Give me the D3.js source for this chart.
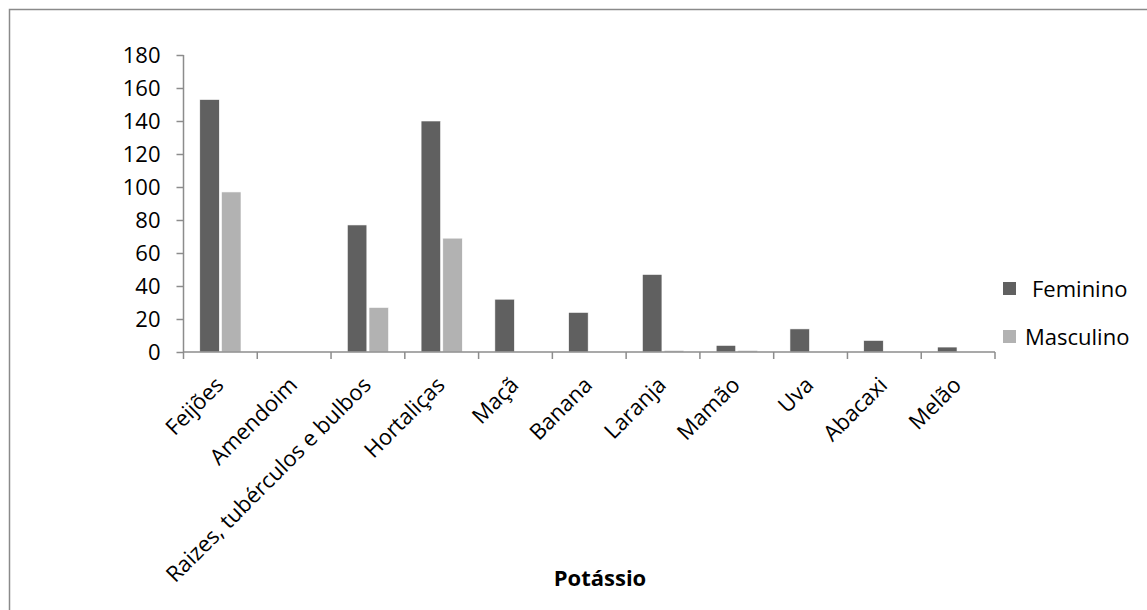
<!DOCTYPE html>
<html>
<head>
<meta charset="utf-8">
<script src="https://cdn.jsdelivr.net/npm/d3@7"></script>
<style>
    body { margin: 0; background: #fff; }
    text { font-family: "Open Sans", Carlito, Calibri, sans-serif; fill: #000; }
</style>
</head>
<body>
<svg width="1147" height="610"></svg>
<script>
// values
const categories = ['Feijões', 'Amendoim', 'Raizes, tubérculos e bulbos', 'Hortaliças', 'Maçã',
    'Banana', 'Laranja', 'Mamão', 'Uva', 'Abacaxi', 'Melão'];
const feminino = [153, 0, 77, 140, 32, 24, 47, 4, 14, 7, 3];
const masculino = [97, 0, 27, 69, 0, 0, 1, 1, 0, 0, 0];
const seriesNames = ['Feminino', 'Masculino'];
const yTicks = [0, 20, 40, 60, 80, 100, 120, 140, 160, 180];
const xTitle = 'Potássio';

const colors = ['#606060', '#b2b2b2'];

const svg = d3.select('svg'),
    margin = {top: 55, right: 152, bottom: 258, left: 183.5},
    width = +svg.attr('width'),
    height = +svg.attr('height');

// chart frame
svg.append('rect')
    .attr('x', 9.5).attr('y', 9.5)
    .attr('width', 1160).attr('height', 640)
    .attr('fill', 'none')
    .attr('stroke', '#8a8a8a')
    .attr('stroke-width', 1.5);

const x = d3.scaleBand()
    .domain(categories)
    .range([margin.left, width - margin.right])
    .paddingInner(0)
    .paddingOuter(0);

const x1 = d3.scaleBand()
    .domain(seriesNames)
    .range([0, x.bandwidth()])
    .paddingInner(0.1)
    .paddingOuter(0.75);

const y = d3.scaleLinear()
    .domain([0, 180])
    .range([height - margin.bottom, margin.top]);

const data = categories.map(function (c, i) {
    return {cat: c, Feminino: feminino[i], Masculino: masculino[i]};
});

// bars
const groups = svg.append('g')
    .selectAll('g')
    .data(data)
    .enter().append('g')
    .attr('transform', function (d) { return 'translate(' + x(d.cat) + ',0)'; });

groups.selectAll('rect')
    .data(function (d) {
        return seriesNames.map(function (k) { return {key: k, value: d[k]}; });
    })
    .enter().append('rect')
    .filter(function (d) { return d.value > 0; })
    .attr('x', function (d) { return x1(d.key); })
    .attr('y', function (d) { return y(d.value); })
    .attr('width', x1.bandwidth())
    .attr('height', function (d) { return y(0) - y(d.value); })
    .attr('fill', function (d) { return colors[seriesNames.indexOf(d.key)]; })
    .attr('stroke', '#fff')
    .attr('stroke-width', 0.6);

// y axis
const yAxis = svg.append('g')
    .attr('transform', 'translate(' + margin.left + ',0)')
    .call(d3.axisLeft(y).tickValues(yTicks).tickSize(7).tickPadding(16));
yAxis.selectAll('line, path').attr('stroke', '#8c8c8c').attr('stroke-width', 1.5);
yAxis.select('path').attr('d', 'M0,' + y(0) + 'V' + y(180));
yAxis.selectAll('text').style('font-size', '22px');

// x axis
const xAxis = svg.append('g')
    .attr('transform', 'translate(0,' + y(0) + ')')
    .call(d3.axisBottom(x).tickSize(0).tickFormat(''));
xAxis.selectAll('line, path').attr('stroke', '#8c8c8c').attr('stroke-width', 1.5);
xAxis.select('path').attr('d', 'M' + margin.left + ',0H' + (width - margin.right));

const tickPos = categories.map(function (c) { return x(c); }).concat([x(categories[categories.length - 1]) + x.bandwidth()]);
xAxis.selectAll('.edge')
    .data(tickPos)
    .enter().append('line')
    .attr('x1', function (d) { return d; })
    .attr('x2', function (d) { return d; })
    .attr('y1', 0).attr('y2', 7)
    .attr('stroke', '#8c8c8c').attr('stroke-width', 1.5);

svg.append('g')
    .selectAll('text')
    .data(categories)
    .enter().append('text')
    .attr('transform', function (d) {
        return 'translate(' + (x(d) + x.bandwidth() / 2 - 1) + ',' + (y(0) + 29) + ') rotate(-45)';
    })
    .attr('text-anchor', 'end')
    .attr('dy', '0.35em')
    .style('font-size', '22px')
    .text(function (d) { return d; });

// axis title
svg.append('text')
    .attr('x', 600)
    .attr('y', 586)
    .attr('text-anchor', 'middle')
    .style('font-size', '22px')
    .style('font-weight', 'bold')
    .text(xTitle);

// legend
const legend = svg.append('g')
    .selectAll('g')
    .data(seriesNames)
    .enter().append('g')
    .attr('transform', function (d, i) { return 'translate(1003,' + (282 + i * 48) + ')'; });

legend.append('rect')
    .attr('width', 13).attr('height', 13)
    .attr('fill', function (d, i) { return colors[i]; });

legend.append('text')
    .attr('x', function (d, i) { return i === 0 ? 29 : 22; })
    .attr('y', 7)
    .attr('dy', '0.35em')
    .style('font-size', '22px')
    .text(function (d) { return d; });
</script>
</body>
</html>
